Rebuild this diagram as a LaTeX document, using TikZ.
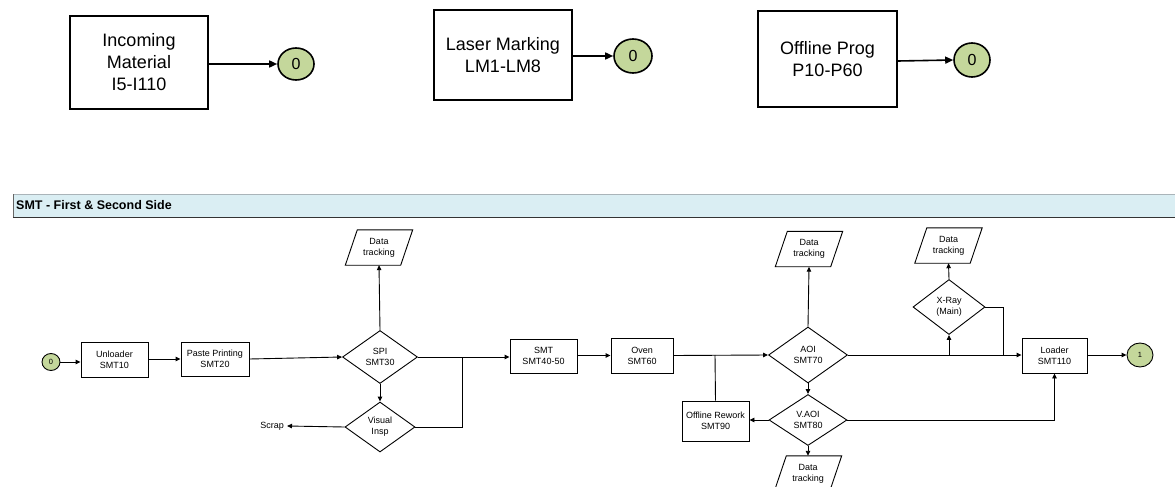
\documentclass[tikz,border=0pt]{standalone}
\usepackage{fontspec}
\setmainfont{Liberation Sans}
\usetikzlibrary{shapes.geometric,arrows.meta,calc}
\definecolor{hdrfill}{RGB}{218,238,243}
\definecolor{hdrline}{RGB}{170,180,185}
\definecolor{conn}{RGB}{196,215,155}
\begin{document}
\begin{tikzpicture}[x=1pt,y=-1pt,
  bigbox/.style={draw,line width=1.8pt,rectangle,align=center,inner sep=0pt,
    font=\fontsize{18}{22}\selectfont},
  bigconn/.style={draw,line width=1.6pt,ellipse,fill=conn,inner sep=0pt,
    font=\fontsize{16}{18}\selectfont},
  bigarrow/.style={line width=1.6pt,-{Triangle[length=8pt,width=7pt]}},
  stepbox/.style={draw,line width=0.9pt,rectangle,align=center,inner sep=0pt,
    font=\fontsize{9}{11}\selectfont},
  decbox/.style={draw,line width=0.9pt,diamond,align=center,inner sep=0pt,
    font=\fontsize{9}{11}\selectfont},
  dtbox/.style={rectangle,align=center,inner sep=0pt,minimum width=55pt,minimum height=35pt,
    font=\fontsize{9}{11}\selectfont},
  smallconn/.style={draw,line width=0.9pt,ellipse,fill=conn,inner sep=0pt,
    font=\fontsize{7.5}{9}\selectfont},
  flow/.style={line width=0.9pt,-{Triangle[length=5pt,width=4.5pt]}},
  line/.style={line width=0.9pt}]
\useasboundingbox (0,0) rectangle (1175,487);

% ---------- top row ----------
\node[bigbox,minimum width=138pt,minimum height=93pt] (inc) at (139,62.5) {Incoming\\Material\\I5-I110};
\node[bigconn,minimum width=36pt,minimum height=32pt] (inc0) at (296,64) {0};
\draw[bigarrow] (inc.east |- inc0.west) -- (inc0.west);

\node[bigbox,minimum width=138pt,minimum height=90pt] (las) at (503,55) {Laser Marking\\LM1-LM8};
\node[bigconn,minimum width=38pt,minimum height=34pt] (las0) at (633,56) {0};
\draw[bigarrow] (las.east |- las0.west) -- (las0.west);

\node[bigbox,minimum width=139pt,minimum height=96pt] (prog) at (827.5,59) {Offline Prog\\P10-P60};
\node[bigconn,minimum width=36pt,minimum height=34pt] (prog0) at (972,60) {0};
\draw[bigarrow] ([yshift=-2pt]prog.east) -- (prog0.west);

% ---------- header ----------
\fill[hdrfill] (13,194) rectangle (1175,217);
\draw[line width=0.8pt,hdrline] (13,194) -- (1175,194);
\draw[line width=1pt,black!80] (13,217) -- (1175,217);
\draw[line width=0.8pt,black!60] (13,194) -- (13,217);
\node[anchor=west,inner sep=0pt,font=\bfseries\fontsize{12.5}{14}\selectfont] (hdr) at (16,205.5) {SMT - First \& Second Side};

% ---------- flow ----------
\node[smallconn,minimum width=18pt,minimum height=17pt] (c0) at (51,362) {0};
\node[stepbox,minimum width=67pt,minimum height=35pt] (unl) at (114.5,359.5) {Unloader\\SMT10};
\node[stepbox,minimum width=68pt,minimum height=34pt] (paste) at (215,359) {Paste Printing\\SMT20};
\node[decbox,minimum width=75pt,minimum height=53pt] (spi) at (380,357) {SPI\\SMT30};
\node[dtbox] (spidt) at (379,247.5) {Data\\tracking};
\node[decbox,minimum width=70pt,minimum height=50pt] (vis) at (380,427) {Visual\\Insp};
\node[anchor=east,inner sep=0pt,font=\fontsize{9}{11}\selectfont] (scrap) at (284,426) {Scrap};
\node[stepbox,minimum width=67pt,minimum height=34pt] (smt) at (543.5,356) {SMT\\SMT40-50};
\node[stepbox,minimum width=62pt,minimum height=35pt] (oven) at (642,355.5) {Oven\\SMT60};
\node[stepbox,minimum width=67pt,minimum height=40pt] (rew) at (715.5,421) {Offline Rework\\SMT90};
\node[decbox,minimum width=79pt,minimum height=56pt] (aoi) at (808,355) {AOI\\SMT70};
\node[dtbox] (aoidt) at (809,249) {Data\\tracking};
\node[decbox,minimum width=78pt,minimum height=51pt] (vaoi) at (808,420) {V.AOI\\SMT80};
\node[dtbox] (vaoidt) at (808,473.5) {Data\\tracking};
\node[decbox,minimum width=72pt,minimum height=55pt] (xray) at (949,307) {X-Ray\\(Main)};
\node[dtbox] (xraydt) at (948.5,245.5) {Data\\tracking};
\node[stepbox,minimum width=65pt,minimum height=35pt] (load) at (1054.5,355.5) {Loader\\SMT110};
\node[smallconn,minimum width=26pt,minimum height=24pt] (c1) at (1140,355) {1};

% parallelogram outlines of the data-tracking nodes
\foreach \n in {spidt,aoidt,vaoidt,xraydt}
  \draw[line] ([xshift=-6pt]\n.south west) -- ([xshift=6pt]\n.north west)
    -- ([xshift=6pt]\n.north east) -- ([xshift=-6pt]\n.south east) -- cycle;

\coordinate (j1) at (462,357);
\coordinate (j2) at (715,355);
\coordinate (j3) at (1003,355);

\draw[flow] (c0.east) -- (c0.east -| unl.west);
\draw[flow] (unl.east |- paste.west) -- (paste.west);
\draw[flow] (paste.east) -- (spi.west);
\draw[flow] (spi.north) -- (spidt.south);
\draw[flow] (spi.south) -- (vis.north);
\draw[flow] (vis.west) -- ([xshift=3pt]scrap.east);
\draw[line] (vis.east) -| (j1);
\draw[flow] (spi.east) -- (smt.west |- spi.east);
\draw[flow] (smt.east |- oven.west) -- (oven.west);
\draw[flow] (oven.east) -- (aoi.west);
\draw[line] (rew.north) -- (j2);
\draw[flow] (aoi.north) -- (aoidt.south);
\draw[flow] (aoi.south) -- (vaoi.north);
\draw[flow] (vaoi.west) -- (rew.east |- vaoi.west);
\draw[flow] (vaoi.south) -- (vaoidt.north);
\draw[flow] (aoi.east) -- (load.west |- aoi.east);
\draw[flow] (xray.south |- aoi.east) -- (xray.south);
\draw[line] (xray.east) -| (j3);
\draw[flow] (xray.north) -- (xraydt.south);
\draw[flow] (load.east |- c1.west) -- (c1.west);
\draw[flow] (vaoi.east) -| (load.south);
\end{tikzpicture}
\end{document}
